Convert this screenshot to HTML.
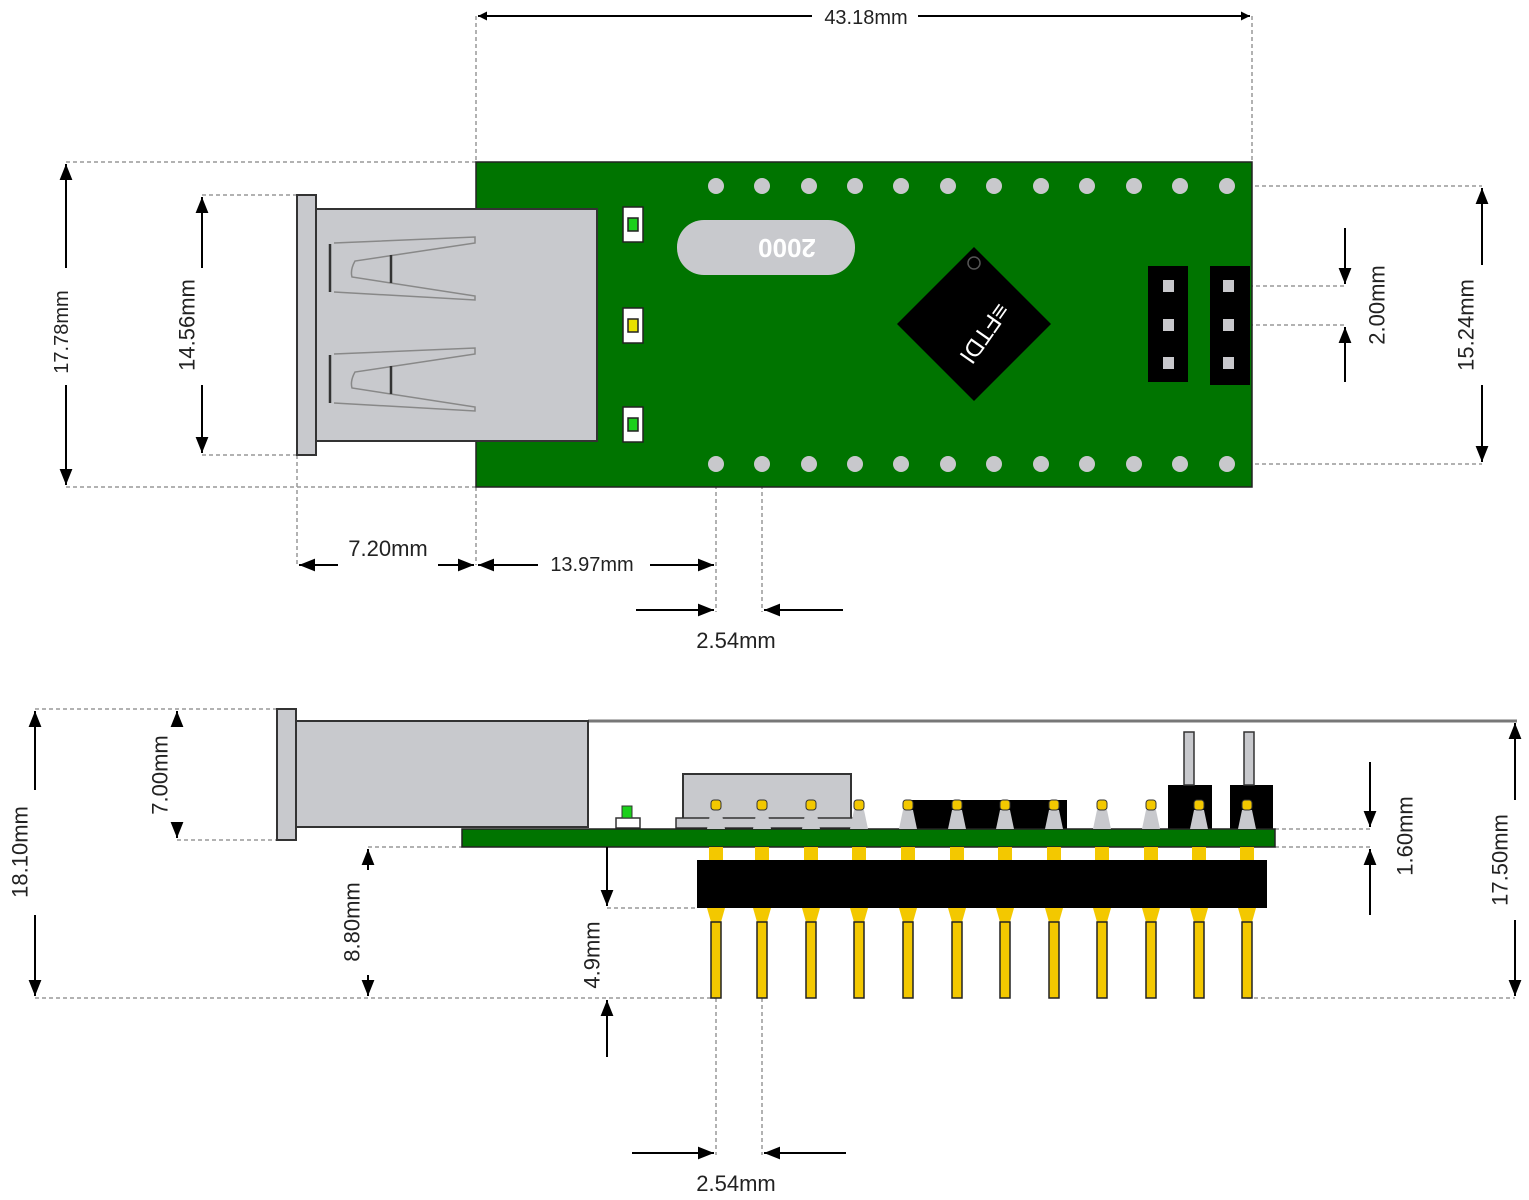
<!DOCTYPE html>
<html><head><meta charset="utf-8"><style>
html,body{margin:0;padding:0;background:#fff}
svg{display:block}
text{font-family:"Liberation Sans",Arial,sans-serif;font-size:22px;fill:#222}
</style></head><body>
<svg width="1529" height="1200" viewBox="0 0 1529 1200" xmlns="http://www.w3.org/2000/svg">
<defs>
<marker id="a" viewBox="0 0 10 10" refX="10" refY="5" markerWidth="9" markerHeight="9" orient="auto-start-reverse" markerUnits="userSpaceOnUse"><path d="M0,0 L10,5 L0,10 z" fill="#000"/></marker>
<marker id="b" viewBox="0 0 10 10" refX="10" refY="5" markerWidth="16" markerHeight="16" orient="auto-start-reverse" markerUnits="userSpaceOnUse"><path d="M0,1 L10,5 L0,9 z" fill="#000"/></marker>
<g id="pin"><path d="M-5,810 L5,810 L9,829 L-9,829 z" fill="#c8c9cd"/><rect x="-5" y="800" width="10" height="10" rx="3" fill="#f3c800" stroke="#333"/><rect x="-7" y="847" width="14" height="13" fill="#f3c800"/><path d="M-9,908 L9,908 L5,922 L-5,922 z" fill="#f3c800"/><rect x="-5" y="922" width="10" height="76" fill="#f3c800" stroke="#222" stroke-width="1.5"/></g>
</defs>
<g stroke="#999" stroke-width="1.5" stroke-dasharray="4,3" fill="none">
<line x1="476" y1="16" x2="476" y2="162"/><line x1="1252" y1="16" x2="1252" y2="162"/>
<line x1="66" y1="162" x2="476" y2="162"/><line x1="66" y1="487" x2="476" y2="487"/>
<line x1="202" y1="195" x2="297" y2="195"/><line x1="202" y1="455" x2="297" y2="455"/>
<line x1="297" y1="455" x2="297" y2="565"/><line x1="476" y1="487" x2="476" y2="565"/>
<line x1="716" y1="464" x2="716" y2="612"/><line x1="762" y1="464" x2="762" y2="612"/>
<line x1="1227" y1="186" x2="1482" y2="186"/><line x1="1227" y1="464" x2="1482" y2="464"/>
<line x1="1228" y1="286" x2="1345" y2="286"/><line x1="1228" y1="325" x2="1345" y2="325"/>
<line x1="35" y1="709" x2="277" y2="709"/><line x1="35" y1="998" x2="716" y2="998"/>
<line x1="177" y1="840" x2="277" y2="840"/><line x1="368" y1="847" x2="462" y2="847"/>
<line x1="607" y1="908" x2="697" y2="908"/>
<line x1="1275" y1="829" x2="1370" y2="829"/><line x1="1275" y1="847" x2="1370" y2="847"/>
<line x1="1247" y1="998" x2="1515" y2="998"/>
<line x1="716" y1="998" x2="716" y2="1155"/><line x1="762" y1="998" x2="762" y2="1155"/>
</g>

<rect x="476" y="162" width="776" height="325" fill="#007400" stroke="#222" stroke-width="1.5"/>
<rect x="297" y="195" width="19" height="260" fill="#c8c9cd" stroke="#333" stroke-width="2"/>
<rect x="316" y="209" width="281" height="232" fill="#c8c9cd" stroke="#333" stroke-width="2"/>
<g fill="none" stroke="#888" stroke-width="1.5">
<path d="M334,243 L475,237 L475,243 L355,261 Q350,270 352,277 L475,296 L475,300 L334,292"/>
<path d="M334,354 L475,348 L475,354 L355,372 Q350,381 352,388 L475,407 L475,411 L334,403"/>
</g>
<g stroke="#333" stroke-width="2.5">
<line x1="330" y1="244" x2="330" y2="292"/><line x1="391" y1="255" x2="391" y2="283"/>
<line x1="330" y1="355" x2="330" y2="403"/><line x1="391" y1="366" x2="391" y2="394"/>
</g>
<g stroke="#222" stroke-width="1.5">
<rect x="623" y="207" width="20" height="35" fill="#fff"/><rect x="628" y="218" width="10" height="13" fill="#1ad01a"/>
<rect x="623" y="308" width="20" height="35" fill="#fff"/><rect x="628" y="319" width="10" height="13" fill="#e8e000"/>
<rect x="623" y="407" width="20" height="35" fill="#fff"/><rect x="628" y="418" width="10" height="13" fill="#1ad01a"/>
</g>
<g fill="#c8c8cc">
<circle cx="716" cy="186" r="8"/><circle cx="762" cy="186" r="8"/><circle cx="809" cy="186" r="8"/><circle cx="855" cy="186" r="8"/><circle cx="901" cy="186" r="8"/><circle cx="948" cy="186" r="8"/><circle cx="994" cy="186" r="8"/><circle cx="1041" cy="186" r="8"/><circle cx="1087" cy="186" r="8"/><circle cx="1134" cy="186" r="8"/><circle cx="1180" cy="186" r="8"/><circle cx="1227" cy="186" r="8"/>
<circle cx="716" cy="464" r="8"/><circle cx="762" cy="464" r="8"/><circle cx="809" cy="464" r="8"/><circle cx="855" cy="464" r="8"/><circle cx="901" cy="464" r="8"/><circle cx="948" cy="464" r="8"/><circle cx="994" cy="464" r="8"/><circle cx="1041" cy="464" r="8"/><circle cx="1087" cy="464" r="8"/><circle cx="1134" cy="464" r="8"/><circle cx="1180" cy="464" r="8"/><circle cx="1227" cy="464" r="8"/>
</g>
<rect x="677" y="220" width="178" height="55" rx="27" fill="#c8c9cd"/>
<text x="787" y="248" transform="rotate(180 787 248)" text-anchor="middle" dominant-baseline="central" style="font-size:26px;fill:#fff;font-weight:bold">2000</text>
<polygon points="974,247 1051,324 974,401 897,324" fill="#000"/>
<circle cx="974" cy="263" r="6" fill="none" stroke="#555" stroke-width="1.5"/>
<text x="984" y="333" transform="rotate(125 984 333)" text-anchor="middle" dominant-baseline="central" style="font-size:24px;fill:#fff">≡FTDI</text>
<rect x="1148" y="266" width="40" height="116" fill="#000"/><rect x="1210" y="266" width="40" height="119" fill="#000"/>
<g fill="#c8c8cc">
<rect x="1163" y="280" width="11" height="12"/><rect x="1163" y="319" width="11" height="12"/><rect x="1163" y="357" width="11" height="12"/>
<rect x="1223" y="280" width="11" height="12"/><rect x="1223" y="319" width="11" height="12"/><rect x="1223" y="357" width="11" height="12"/>
</g>

<g stroke="#000" stroke-width="2" fill="none">
<line x1="478" y1="16" x2="812" y2="16" marker-start="url(#a)"/><line x1="918" y1="16" x2="1250" y2="16" marker-end="url(#a)"/>
<line x1="66" y1="164" x2="66" y2="268" marker-start="url(#b)"/><line x1="66" y1="385" x2="66" y2="485" marker-end="url(#b)"/>
<line x1="202" y1="197" x2="202" y2="268" marker-start="url(#b)"/><line x1="202" y1="385" x2="202" y2="453" marker-end="url(#b)"/>
<line x1="299" y1="565" x2="338" y2="565" marker-start="url(#b)"/><line x1="438" y1="565" x2="474" y2="565" marker-end="url(#b)"/>
<line x1="478" y1="565" x2="538" y2="565" marker-start="url(#b)"/><line x1="650" y1="565" x2="714" y2="565" marker-end="url(#b)"/>
<line x1="636" y1="610" x2="714" y2="610" marker-end="url(#b)"/><line x1="843" y1="610" x2="764" y2="610" marker-end="url(#b)"/>
<line x1="1482" y1="188" x2="1482" y2="265" marker-start="url(#b)"/><line x1="1482" y1="385" x2="1482" y2="462" marker-end="url(#b)"/>
<line x1="1345" y1="228" x2="1345" y2="284" marker-end="url(#b)"/><line x1="1345" y1="382" x2="1345" y2="327" marker-end="url(#b)"/>
</g>
<text x="866" y="24" text-anchor="middle" style="font-size:20px">43.18mm</text>
<text x="62" y="332" transform="rotate(-90 62 332)" text-anchor="middle" dominant-baseline="central" style="font-size:20px">17.78mm</text>
<text x="187" y="325" transform="rotate(-90 187 325)" text-anchor="middle" dominant-baseline="central">14.56mm</text>
<text x="388" y="556" text-anchor="middle">7.20mm</text>
<text x="592" y="571" text-anchor="middle" style="font-size:20px">13.97mm</text>
<text x="736" y="648" text-anchor="middle">2.54mm</text>
<text x="1466" y="325" transform="rotate(-90 1466 325)" text-anchor="middle" dominant-baseline="central">15.24mm</text>
<text x="1377" y="305" transform="rotate(-90 1377 305)" text-anchor="middle" dominant-baseline="central">2.00mm</text>

<line x1="588" y1="721" x2="1517" y2="721" stroke="#777" stroke-width="3"/>
<rect x="296" y="721" width="292" height="106" fill="#c8c9cd" stroke="#333" stroke-width="2"/>
<rect x="277" y="709" width="19" height="131" fill="#c8c9cd" stroke="#333" stroke-width="2"/>
<rect x="683" y="774" width="168" height="46" fill="#c8c9cd" stroke="#333" stroke-width="2"/>
<rect x="676" y="818" width="184" height="10" fill="#c8c9cd" stroke="#333" stroke-width="1.5"/>
<rect x="908" y="800" width="159" height="29" fill="#000"/>
<rect x="616" y="818" width="24" height="10" fill="#fff" stroke="#333" stroke-width="1.5"/>
<rect x="622" y="806" width="10" height="12" fill="#1ad01a" stroke="#333" stroke-width="1"/>
<rect x="1168" y="785" width="44" height="44" fill="#000"/><rect x="1230" y="785" width="43" height="44" fill="#000"/>
<rect x="1184" y="732" width="10" height="53" fill="#c8c9cd" stroke="#333" stroke-width="1.5"/>
<rect x="1244" y="732" width="10" height="53" fill="#c8c9cd" stroke="#333" stroke-width="1.5"/>
<rect x="462" y="829" width="813" height="18" fill="#007400" stroke="#222" stroke-width="1.5"/>
<rect x="697" y="860" width="570" height="48" fill="#000"/>
<use href="#pin" x="716"/><use href="#pin" x="762"/><use href="#pin" x="811"/><use href="#pin" x="859"/>
<use href="#pin" x="908"/><use href="#pin" x="957"/><use href="#pin" x="1005"/><use href="#pin" x="1054"/>
<use href="#pin" x="1102"/><use href="#pin" x="1151"/><use href="#pin" x="1199"/><use href="#pin" x="1247"/>

<g stroke="#000" stroke-width="2" fill="none">
<line x1="35" y1="711" x2="35" y2="790" marker-start="url(#b)"/><line x1="35" y1="915" x2="35" y2="996" marker-end="url(#b)"/>
<line x1="177" y1="711" x2="177" y2="725" marker-start="url(#b)"/><line x1="177" y1="825" x2="177" y2="838" marker-end="url(#b)"/>
<line x1="368" y1="849" x2="368" y2="870" marker-start="url(#b)"/><line x1="368" y1="975" x2="368" y2="996" marker-end="url(#b)"/>
<line x1="607" y1="847" x2="607" y2="906" marker-end="url(#b)"/><line x1="607" y1="1057" x2="607" y2="1000" marker-end="url(#b)"/>
<line x1="1370" y1="762" x2="1370" y2="827" marker-end="url(#b)"/><line x1="1370" y1="915" x2="1370" y2="849" marker-end="url(#b)"/>
<line x1="1515" y1="723" x2="1515" y2="800" marker-start="url(#b)"/><line x1="1515" y1="920" x2="1515" y2="996" marker-end="url(#b)"/>
<line x1="632" y1="1153" x2="714" y2="1153" marker-end="url(#b)"/><line x1="846" y1="1153" x2="764" y2="1153" marker-end="url(#b)"/>
</g>
<text x="20" y="852" transform="rotate(-90 20 852)" text-anchor="middle" dominant-baseline="central">18.10mm</text>
<text x="160" y="775" transform="rotate(-90 160 775)" text-anchor="middle" dominant-baseline="central">7.00mm</text>
<text x="352" y="922" transform="rotate(-90 352 922)" text-anchor="middle" dominant-baseline="central">8.80mm</text>
<text x="592" y="955" transform="rotate(-90 592 955)" text-anchor="middle" dominant-baseline="central">4.9mm</text>
<text x="1405" y="836" transform="rotate(-90 1405 836)" text-anchor="middle" dominant-baseline="central">1.60mm</text>
<text x="1500" y="860" transform="rotate(-90 1500 860)" text-anchor="middle" dominant-baseline="central">17.50mm</text>
<text x="736" y="1191" text-anchor="middle">2.54mm</text>
</svg>
</body></html>
